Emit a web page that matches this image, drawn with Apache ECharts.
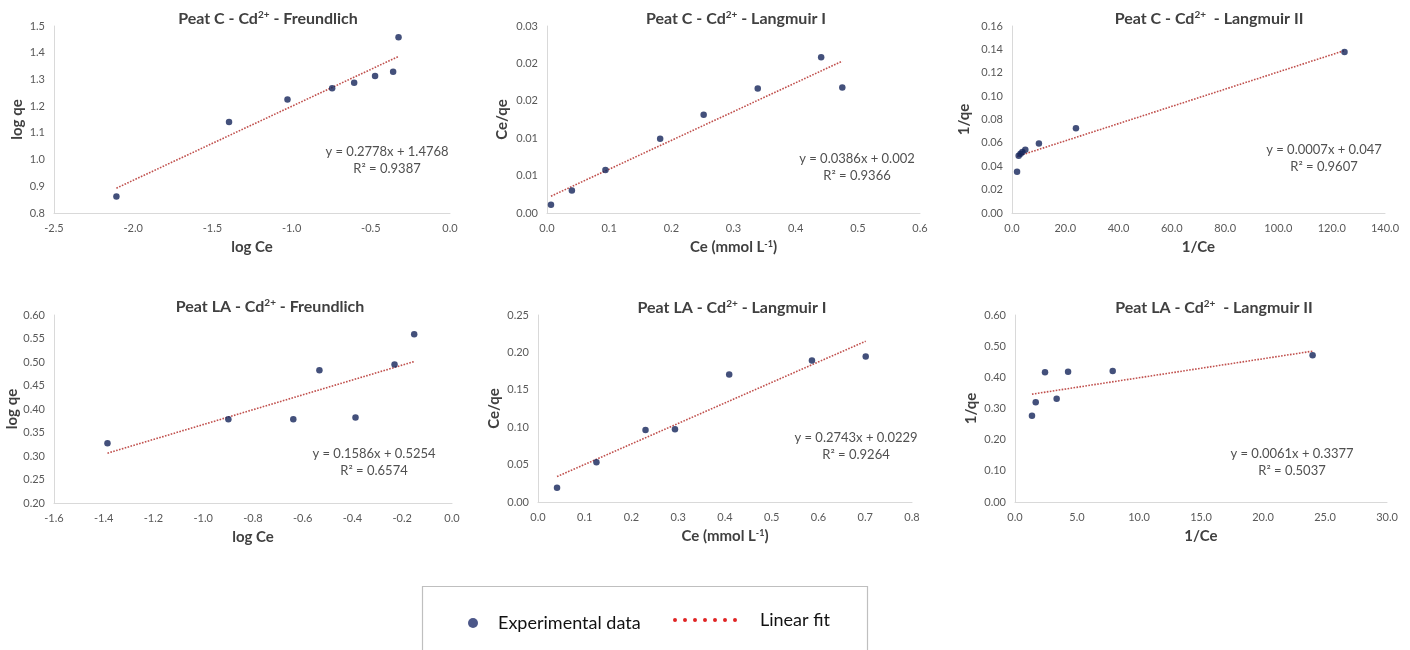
<!DOCTYPE html>
<html><head><meta charset="utf-8">
<script src="https://cdn.jsdelivr.net/npm/echarts@6/dist/echarts.min.js"></script>
<style>html,body{margin:0;padding:0;background:#fff}#c{width:1410px;height:650px}</style>
</head><body><div id="c"></div>
<script>
// ---------- DATA ----------
const p1X = [-2.106, -1.395, -1.026, -0.744, -0.605, -0.473, -0.359, -0.325];
const p1Y = [0.862, 1.141, 1.225, 1.267, 1.288, 1.313, 1.329, 1.458];
const p1FitX = [-2.106, -0.325];
const p1FitY = [0.893, 1.386];

const p2X = [0.0064, 0.040, 0.094, 0.182, 0.252, 0.339, 0.441, 0.475];
const p2Y = [0.00111, 0.00302, 0.00574, 0.00992, 0.01312, 0.01664, 0.02082, 0.01677];
const p2FitX = [0.0064, 0.475];
const p2FitY = [0.00225, 0.0203];

const p3X = [124.8, 24.0, 10.1, 5.0, 3.9, 3.2, 2.5, 1.9];
const p3Y = [0.1378, 0.0726, 0.0594, 0.0541, 0.0521, 0.0506, 0.0489, 0.0353];
const p3FitX = [1.9, 124.8];
const p3FitY = [0.0484, 0.139];

const p4X = [-1.385, -0.899, -0.638, -0.533, -0.388, -0.231, -0.152];
const p4Y = [0.327, 0.378, 0.378, 0.4825, 0.382, 0.4945, 0.559];
const p4FitX = [-1.385, -0.152];
const p4FitY = [0.306, 0.501];

const p5X = [0.0407, 0.125, 0.230, 0.293, 0.409, 0.586, 0.701];
const p5Y = [0.0192, 0.0531, 0.0964, 0.0973, 0.1705, 0.1893, 0.1946];
const p5FitX = [0.0407, 0.701];
const p5FitY = [0.034, 0.215];

const p6X = [1.37, 1.67, 2.42, 3.36, 4.28, 7.88, 24.0];
const p6Y = [0.277, 0.320, 0.416, 0.331, 0.418, 0.420, 0.471];
const p6FitX = [1.37, 24.0];
const p6FitY = [0.346, 0.484];

// tick labels
const p1XTicks = ['-2.5', '-2.0', '-1.5', '-1.0', '-0.5', '0.0'];
const p1YTicks = ['0.8', '0.9', '1.0', '1.1', '1.2', '1.3', '1.4', '1.5'];
const p2XTicks = ['0.0', '0.1', '0.2', '0.3', '0.4', '0.5', '0.6'];
const p2YTicks = ['0.00', '0.01', '0.01', '0.02', '0.02', '0.03'];
const p3XTicks = ['0.0', '20.0', '40.0', '60.0', '80.0', '100.0', '120.0', '140.0'];
const p3YTicks = ['0.00', '0.02', '0.04', '0.06', '0.08', '0.10', '0.12', '0.14', '0.16'];
const p4XTicks = ['-1.6', '-1.4', '-1.2', '-1.0', '-0.8', '-0.6', '-0.4', '-0.2', '0.0'];
const p4YTicks = ['0.20', '0.25', '0.30', '0.35', '0.40', '0.45', '0.50', '0.55', '0.60'];
const p5XTicks = ['0.0', '0.1', '0.2', '0.3', '0.4', '0.5', '0.6', '0.7', '0.8'];
const p5YTicks = ['0.00', '0.05', '0.10', '0.15', '0.20', '0.25'];
const p6XTicks = ['0.0', '5.0', '10.0', '15.0', '20.0', '25.0', '30.0'];
const p6YTicks = ['0.00', '0.10', '0.20', '0.30', '0.40', '0.50', '0.60'];

// texts
const panelTitles = [
  '{b|Peat C - Cd}{s|2+}{b| - Freundlich}',
  '{b|Peat C - Cd}{s|2+}{b| - Langmuir I}',
  '{b|Peat C - Cd}{s|2+}{b|  - Langmuir II}',
  '{b|Peat LA - Cd}{s|2+}{b| - Freundlich}',
  '{b|Peat LA - Cd}{s|2+}{b| - Langmuir I}',
  '{b|Peat LA - Cd}{s|2+}{b|  - Langmuir II}'
];
const xNames = ['log Ce', 'Ce (mmol L{s|-1})', '1/Ce', 'log Ce', 'Ce (mmol L{s|-1})', '1/Ce'];
const yNames = ['log qe', 'Ce/qe', '1/qe', 'log qe', 'Ce/qe', '1/qe'];
const fitEquations = ['y = 0.2778x + 1.4768', 'y = 0.0386x + 0.002', 'y = 0.0007x + 0.047',
                      'y = 0.1586x + 0.5254', 'y = 0.2743x + 0.0229', 'y = 0.0061x + 0.3377'];
const fitR2 = ['R² = 0.9387', 'R² = 0.9366', 'R² = 0.9607', 'R² = 0.6574', 'R² = 0.9264', 'R² = 0.5037'];
const legendNames = ['Experimental data', 'Linear fit'];

// ---------- LAYOUT / STYLE ----------
const FONT = 'Lato, "Open Sans", sans-serif';
const panels = [
  {xs: p1X, ys: p1Y, fx: p1FitX, fy: p1FitY, xt: p1XTicks, yt: p1YTicks,
   grid: {left: 54, top: 26, width: 396, height: 187}, xa: [-2.5, 0, 0.5], ya: [0.8, 1.5, 0.1],
   title: [268, 19], eq: [387, 160], yGap: 29},
  {xs: p2X, ys: p2Y, fx: p2FitX, fy: p2FitY, xt: p2XTicks, yt: p2YTicks,
   grid: {left: 547, top: 26, width: 373, height: 187}, xa: [0, 0.6, 0.1], ya: [0, 0.025, 0.005],
   title: [736, 19], eq: [857, 167], yGap: 37},
  {xs: p3X, ys: p3Y, fx: p3FitX, fy: p3FitY, xt: p3XTicks, yt: p3YTicks,
   grid: {left: 1012, top: 26, width: 373, height: 187}, xa: [0, 140, 20], ya: [0, 0.16, 0.02],
   title: [1209, 19], eq: [1324, 158], yGap: 40},
  {xs: p4X, ys: p4Y, fx: p4FitX, fy: p4FitY, xt: p4XTicks, yt: p4YTicks,
   grid: {left: 54, top: 315, width: 398, height: 188}, xa: [-1.6, 0, 0.2], ya: [0.2, 0.6, 0.05],
   title: [270, 307], eq: [374, 462], yGap: 31},
  {xs: p5X, ys: p5Y, fx: p5FitX, fy: p5FitY, xt: p5XTicks, yt: p5YTicks,
   grid: {left: 538, top: 315, width: 374, height: 187}, xa: [0, 0.8, 0.1], ya: [0, 0.25, 0.05],
   title: [732, 308], eq: [856, 446], yGap: 36},
  {xs: p6X, ys: p6Y, fx: p6FitX, fy: p6FitY, xt: p6XTicks, yt: p6YTicks,
   grid: {left: 1015, top: 315, width: 372, height: 187}, xa: [0, 30, 5], ya: [0, 0.6, 0.1],
   title: [1214, 308], eq: [1292, 462], yGap: 36}
];

const axisNameStyle = {
  fontFamily: FONT, fontSize: 15, fontWeight: 'bold', color: '#404040',
  rich: {s: {fontFamily: FONT, fontSize: 9, fontWeight: 'bold', color: '#404040', verticalAlign: 'top', padding: [0, 0, 6, 0]}}
};

const grids = [], xAxes = [], yAxes = [], series = [], graphics = [];
panels.forEach((p, i) => {
  grids.push(Object.assign({containLabel: false}, p.grid));
  const xt = p.xt, yt = p.yt;
  xAxes.push({
    type: 'value', gridIndex: i, min: p.xa[0], max: p.xa[1], interval: p.xa[2],
    name: xNames[i], nameLocation: 'middle', nameGap: 27, nameTextStyle: axisNameStyle,
    axisLine: {onZero: false, lineStyle: {color: '#d9d9d9', width: 1}},
    axisTick: {show: false}, splitLine: {show: false},
    axisLabel: {color: '#595959', fontFamily: FONT, fontSize: 11, margin: 10,
      formatter: v => xt[Math.round((v - p.xa[0]) / p.xa[2])]}
  });
  yAxes.push({
    type: 'value', gridIndex: i, min: p.ya[0], max: p.ya[1], interval: p.ya[2],
    name: yNames[i], nameLocation: 'middle', nameGap: p.yGap, nameRotate: 90, nameTextStyle: axisNameStyle,
    axisLine: {show: true, onZero: false, lineStyle: {color: '#d9d9d9', width: 1}},
    axisTick: {show: false}, splitLine: {show: false},
    axisLabel: {color: '#595959', fontFamily: FONT, fontSize: 11, margin: 9,
      formatter: v => yt[Math.round((v - p.ya[0]) / p.ya[2])]}
  });
  series.push({
    name: legendNames[1], type: 'line', xAxisIndex: i, yAxisIndex: i,
    data: p.fx.map((x, k) => [x, p.fy[k]]), showSymbol: false, symbol: 'none',
    color: '#e02424', silent: true, z: 2,
    lineStyle: {color: '#c0504d', width: 1.6, type: [1.6, 1.4]}
  });
  series.push({
    name: legendNames[0], type: 'scatter', xAxisIndex: i, yAxisIndex: i,
    data: p.xs.map((x, k) => [x, p.ys[k]]), symbolSize: 6.5, z: 3,
    itemStyle: {color: '#14245a'}
  });
  graphics.push({
    type: 'text', x: p.title[0], y: p.title[1],
    style: {text: panelTitles[i], align: 'center', verticalAlign: 'middle',
      rich: {
        b: {fontFamily: FONT, fontSize: 16, fontWeight: 'bold', fill: '#404040', lineHeight: 19},
        s: {fontFamily: FONT, fontSize: 10, fontWeight: 'bold', fill: '#404040', verticalAlign: 'top', lineHeight: 19, padding: [0, 0, 6, 0]}
      }}
  });
  graphics.push({
    type: 'text', x: p.eq[0], y: p.eq[1],
    style: {text: fitEquations[i] + '\n' + fitR2[i], align: 'center', verticalAlign: 'middle',
      fontFamily: FONT, fontSize: 13, lineHeight: 17, fill: '#505050'}
  });
});

// legend box
graphics.push({
  type: 'rect', shape: {x: 422.5, y: 586.5, width: 445, height: 80},
  style: {fill: 'none', stroke: '#bfbfbf', lineWidth: 1.2}
});

// dotted legend icon: 7 dots
let dotPath = 'path://';
for (let k = 0; k < 7; k++) {
  const cx = 2 + k * 10;
  dotPath += 'M' + (cx - 2) + ',2a2,2 0 1,0 4,0a2,2 0 1,0 -4,0z';
}

const chart = echarts.init(document.getElementById('c'), null, {renderer: 'canvas'});
chart.setOption({
  animation: false,
  backgroundColor: '#ffffff',
  grid: grids, xAxis: xAxes, yAxis: yAxes, series: series,
  legend: [
    {data: [{name: legendNames[0], icon: 'circle'}], left: 463, top: 607,
     itemWidth: 40, itemHeight: 10, itemStyle: {color: '#1f2d6b'},
     textStyle: {fontFamily: FONT, fontSize: 18, color: '#111', lineHeight: 22}},
    {data: [{name: legendNames[1], icon: dotPath}], left: 668, top: 604,
     itemWidth: 64, itemHeight: 4, itemStyle: {color: '#e02424'},
     textStyle: {fontFamily: FONT, fontSize: 18, color: '#111', lineHeight: 22, padding: [0, 0, 0, 18]}}
  ],
  graphic: graphics
});
</script></body></html>
